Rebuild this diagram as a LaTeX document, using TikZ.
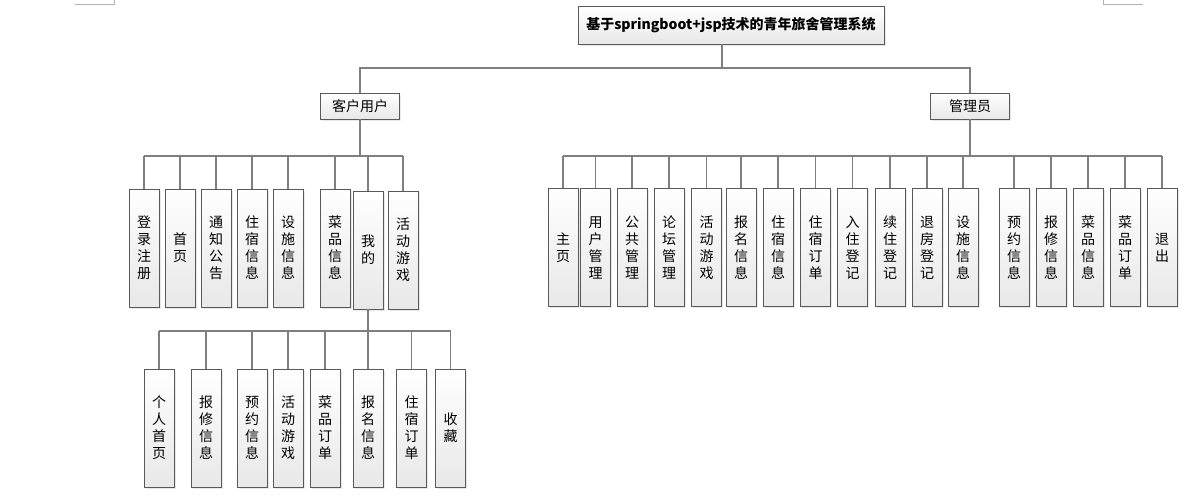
\documentclass[tikz,border=0pt]{standalone}
\usepackage{fontspec}
\setmainfont{Noto Sans CJK SC}
\usetikzlibrary{shadows}
\definecolor{linegray}{HTML}{7F7F7F}
\definecolor{boxline}{HTML}{595959}
\begin{document}
\begin{tikzpicture}[x=1pt, y=-1pt,
  box/.style={draw=boxline, line width=0.9pt, top color=white, bottom color=black!9,
    drop shadow={shadow xshift=1.5pt, shadow yshift=-1.5pt, opacity=0.18}, inner sep=0pt},
  titlebox/.style={box, minimum width=306pt, minimum height=38pt, font=\bfseries\fontsize{14pt}{17pt}\selectfont},
  rolebox/.style={box, minimum width=79pt, minimum height=26pt, font=\fontsize{14pt}{17pt}\selectfont},
  leaf/.style={box, minimum width=30pt, minimum height=118pt, align=center, font=\fontsize{14pt}{17pt}\selectfont},
  link/.style={draw=linegray, line width=1.2pt}]

  \useasboundingbox (0,0) rectangle (1203,498);
  \draw[black!30, line width=0.8pt] (75,4) -- (114,4) -- (114,0);
  \draw[black!30, line width=0.8pt] (1103,0) -- (1103,4) -- (1143,4);

  \node[titlebox] (sys) at (731,25) {基于springboot+jsp技术的青年旅舍管理系统};
  \node[rolebox] (user) at (360,106) {客户用户};
  \node[rolebox] (admin) at (970,106) {管理员};

  \node[leaf] (reg) at (144,248) {登\\录\\注\\册};
  \node[leaf] (home) at (180,248) {首\\页};
  \node[leaf] (notice) at (216,248) {通\\知\\公\\告};
  \node[leaf] (stay) at (252,248) {住\\宿\\信\\息};
  \node[leaf] (facility) at (288,248) {设\\施\\信\\息};
  \node[leaf] (dish) at (335,248) {菜\\品\\信\\息};
  \node[leaf] (mine) at (368,250) {我\\的};
  \node[leaf] (game) at (403,250) {活\\动\\游\\戏};

  \node[leaf] (main) at (563,247.5) {主\\页};
  \node[leaf] (usermgr) at (595.5,247.5) {用\\户\\管\\理};
  \node[leaf] (pubmgr) at (632,247.5) {公\\共\\管\\理};
  \node[leaf] (forum) at (669,247.5) {论\\坛\\管\\理};
  \node[leaf] (agame) at (706.5,247.5) {活\\动\\游\\戏};
  \node[leaf] (signup) at (741,247.5) {报\\名\\信\\息};
  \node[leaf] (astay) at (778,247.5) {住\\宿\\信\\息};
  \node[leaf] (aorder) at (815.5,247.5) {住\\宿\\订\\单};
  \node[leaf] (checkin) at (852.5,247.5) {入\\住\\登\\记};
  \node[leaf] (renew) at (890,247.5) {续\\住\\登\\记};
  \node[leaf] (checkout) at (927,247.5) {退\\房\\登\\记};
  \node[leaf] (afacility) at (963,247.5) {设\\施\\信\\息};
  \node[leaf] (booking) at (1014,247.5) {预\\约\\信\\息};
  \node[leaf] (repair) at (1051,247.5) {报\\修\\信\\息};
  \node[leaf] (adish) at (1088,247.5) {菜\\品\\信\\息};
  \node[leaf] (adishorder) at (1125,247.5) {菜\\品\\订\\单};
  \node[leaf] (logout) at (1162,247.5) {退\\出};

  \node[leaf] (profile) at (159,428) {个\\人\\首\\页};
  \node[leaf] (repairs) at (206,428) {报\\修\\信\\息};
  \node[leaf] (bookings) at (252,428) {预\\约\\信\\息};
  \node[leaf] (mgame) at (288,428) {活\\动\\游\\戏};
  \node[leaf] (morder) at (325,428) {菜\\品\\订\\单};
  \node[leaf] (msignup) at (368,428) {报\\名\\信\\息};
  \node[leaf] (mstay) at (411.5,428) {住\\宿\\订\\单};
  \node[leaf] (fav) at (450.5,428) {收\\藏};

  \coordinate (trunk) at (722,68);
  \coordinate (ubar) at (0,156);
  \coordinate (abar) at (0,156);
  \coordinate (mbar) at (0,331);

  \draw[link] (sys.south -| trunk) -- (trunk);
  \draw[link] (user.north) |- (trunk) -| (admin.north);

  \draw[link] (user.south) -- (user.south |- ubar);
  \draw[link] (reg.north |- ubar) -- (game.north |- ubar);
  \foreach \n in {reg,home,notice,stay,facility,dish,mine,game}
    \draw[link] (\n.north) -- (\n.north |- ubar);

  \draw[link] (admin.south) -- (admin.south |- abar);
  \draw[link] (main.north |- abar) -- (logout.north |- abar);
  \foreach \n in {main,usermgr,pubmgr,forum,agame,signup,astay,aorder,checkin,renew,checkout,afacility,booking,repair,adish,adishorder,logout}
    \draw[link] (\n.north) -- (\n.north |- abar);

  \draw[link] (mine.south) -- (mine.south |- mbar);
  \draw[link] (profile.north |- mbar) -- (fav.north |- mbar);
  \foreach \n in {profile,repairs,bookings,mgame,morder,msignup,mstay,fav}
    \draw[link] (\n.north) -- (\n.north |- mbar);
\end{tikzpicture}
\end{document}
